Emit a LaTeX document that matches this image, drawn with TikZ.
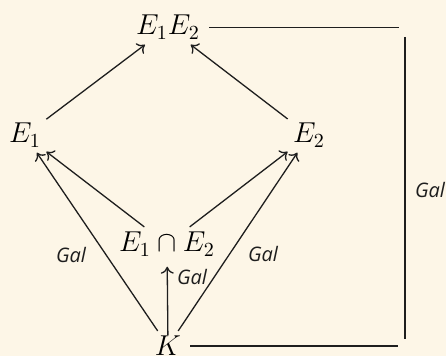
\documentclass[tikz,border=0pt]{standalone}
\usepackage{fontspec}
\newfontfamily\galfont{Open Sans}
\usetikzlibrary{arrows.meta}
\definecolor{bg}{RGB}{253,246,231}
\definecolor{inkc}{RGB}{30,30,30}
\begin{document}
\begin{tikzpicture}[x=0.5pt,y=-0.5pt,
  obj/.style={anchor=base, inner sep=2.5pt, font=\Large},
  lbl/.style={font=\galfont\itshape\fontsize{10}{12}\selectfont, inner sep=0pt, text=inkc},
  arr/.style={draw=inkc, line width=0.65pt, -{To[length=3.5pt,width=6.5pt]}},
  plain/.style={draw=inkc, line width=0.65pt}]
\fill[bg] (0,0) rectangle (446,356);
\useasboundingbox (0,0) rectangle (446,356);
\node[obj] (E12) at (168,35) {$E_1E_2$};
\node[obj] (E1) at (25,143) {$E_1$};
\node[obj] (E2) at (309,143) {$E_2$};
\node[obj] (cap) at (167,252) {$E_1\cap E_2$};
\node[obj] (K) at (168,356) {$K$};
\draw[arr] (E1) -- (E12);
\draw[arr] (E2) -- (E12);
\draw[arr] (cap) -- (E1);
\draw[arr] (cap) -- (E2);
\draw[arr] (K) -- (E1);
\draw[arr] (K) -- (E2);
\draw[arr, shorten >=2.5pt, shorten <=-2pt] (K) -- (cap);
\path (E12.east) ++(194,0) coordinate (tr);
\path (K.east) ++(212,0) coordinate (br);
\coordinate (vt) at (405,37);
\coordinate (vb) at (405,339);
\draw[plain] ([xshift=2pt]E12.east) -- (tr);
\draw[plain] ([xshift=2pt]K.east) -- (br);
\draw[plain] (vt) -- (vb);
\node[lbl] (g1) at (71,255) {Gal};
\node[lbl] (g2) at (263,254) {Gal};
\node[lbl] (g3) at (192,277) {Gal};
\node[lbl] (g4) at (430,190) {Gal};
\end{tikzpicture}
\end{document}
